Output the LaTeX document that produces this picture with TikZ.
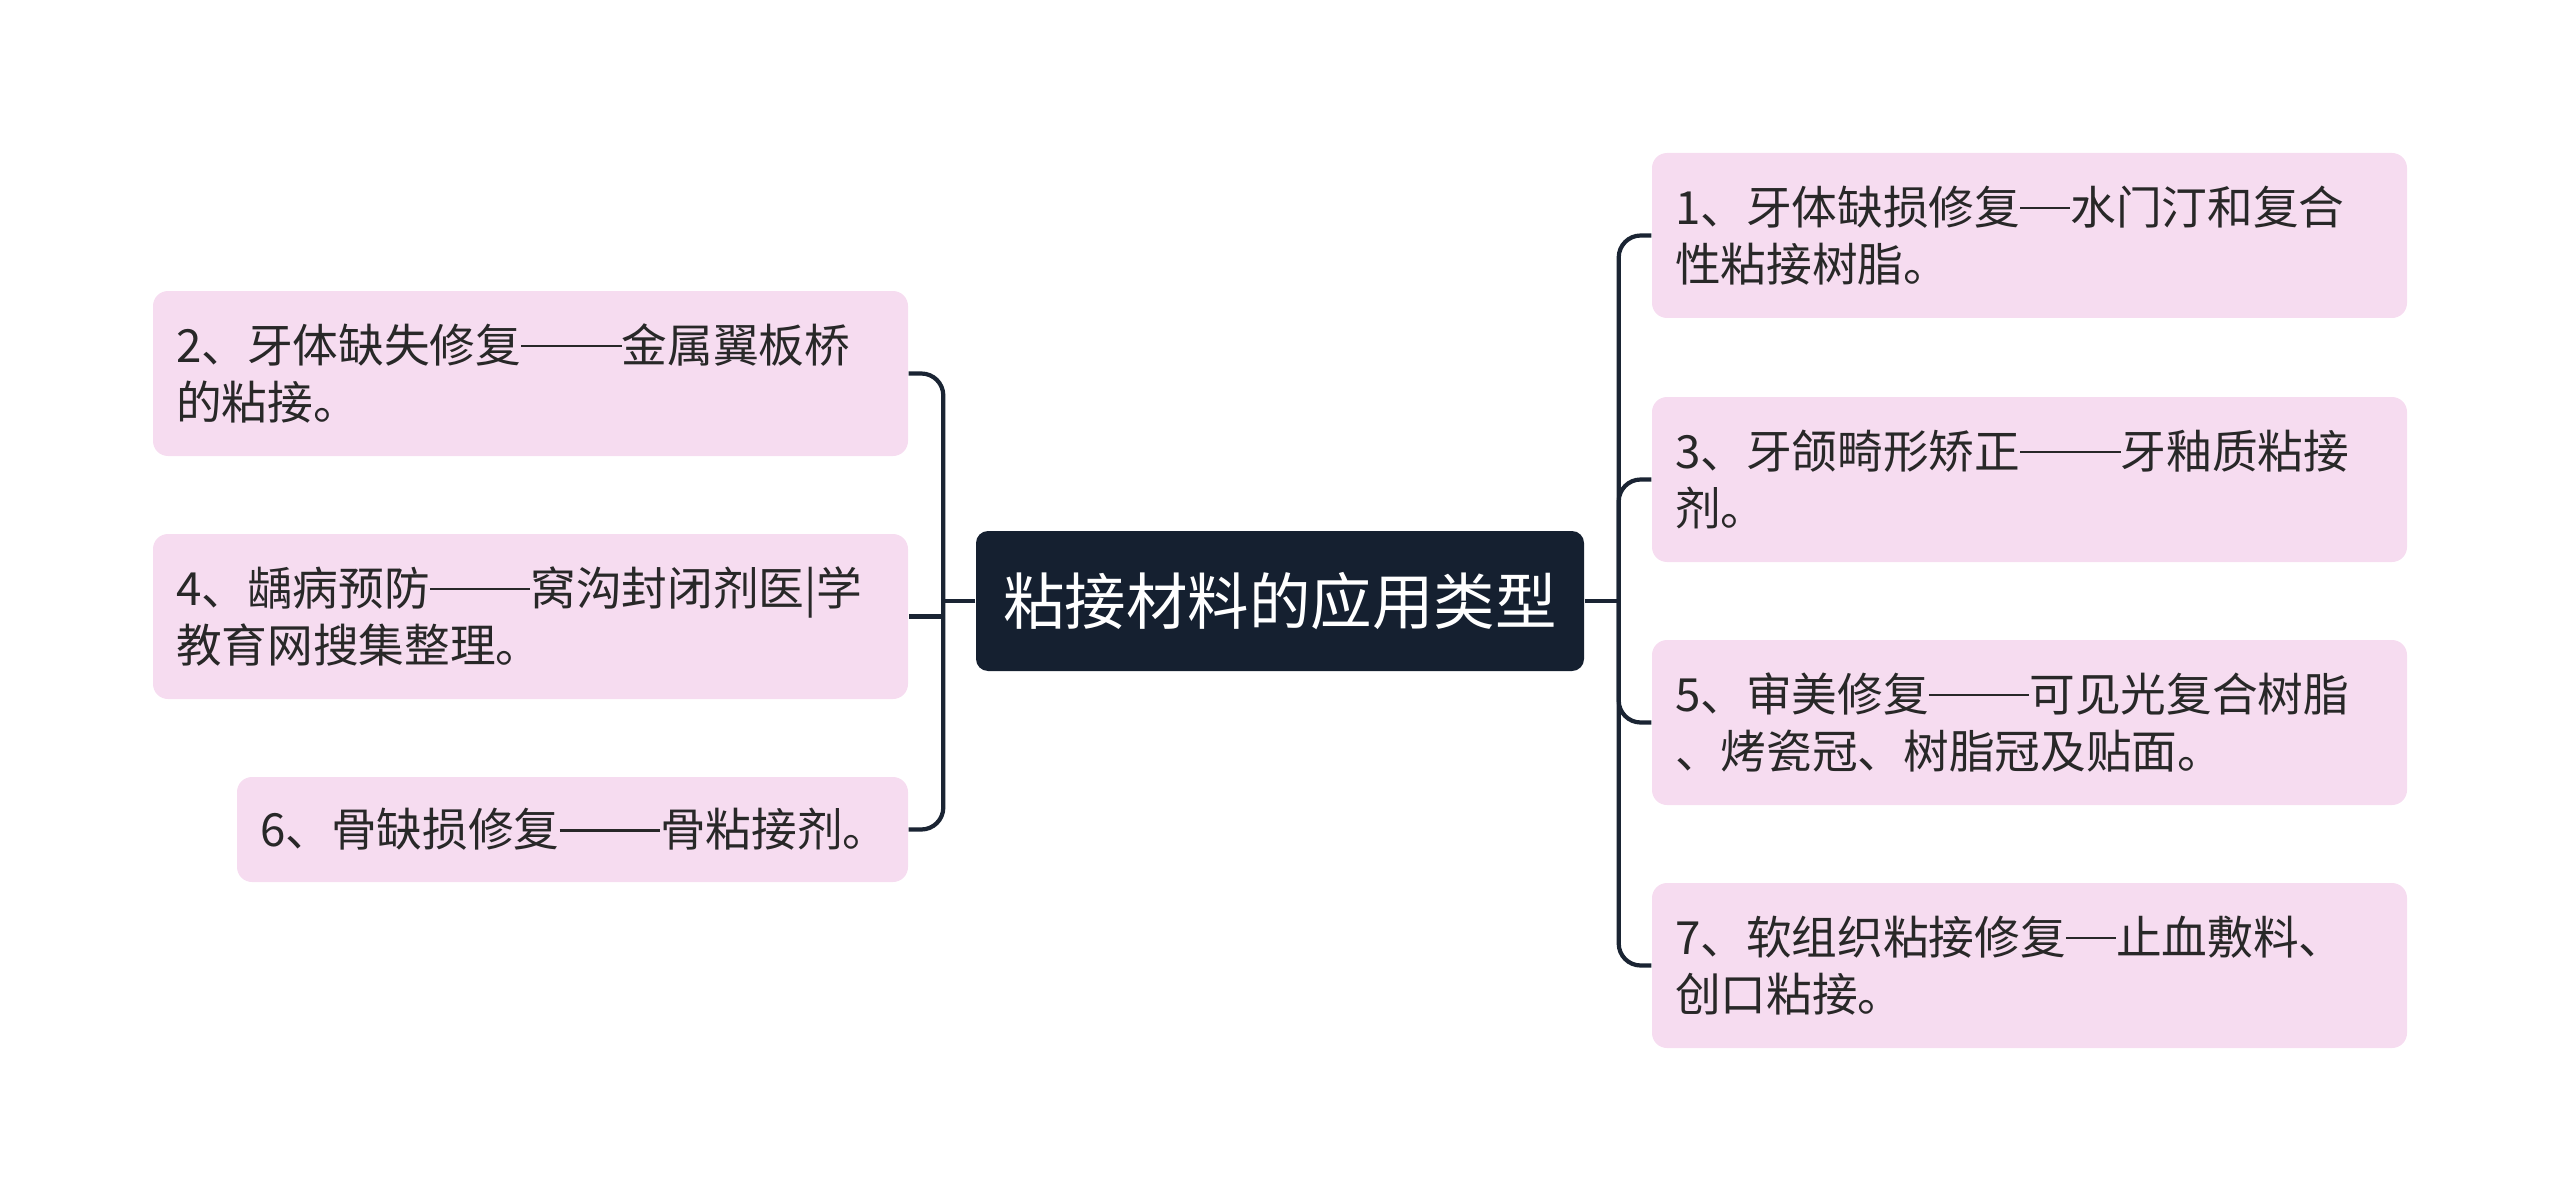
\documentclass[tikz,border=0pt]{standalone}
\usepackage{fontspec}
\setmainfont{Noto Sans CJK SC}
\usetikzlibrary{calc}
\definecolor{rootFill}{RGB}{21,32,48}
\definecolor{leafFill}{RGB}{246,220,240}
\definecolor{lineCol}{RGB}{26,36,51}
\definecolor{txtCol}{RGB}{40,40,40}
\newcommand{\cjkdash}{\rule[0.33em]{1.1em}{0.06em}}

\begin{document}
\begin{tikzpicture}[
  leaf/.style={fill=leafFill,rounded corners=0.15cm,minimum height=1.65cm,
    inner xsep=0.23cm,text width=7.09cm,align=left,text=txtCol,
    font=\fontsize{13pt}{16.2pt}\selectfont},
  root/.style={fill=rootFill,rounded corners=0.12cm,minimum width=6.08cm,
    minimum height=1.4cm,text=white,font=\fontsize{17.5pt}{20pt}\selectfont},
  conn/.style={draw=lineCol,line width=1.2pt,rounded corners=0.22cm}
]
\useasboundingbox (0,0) rectangle (25.6,-12.04);
\def\xl{5.305}
\def\xr{20.295}

\node[root] (root) at (12.80,-6.01) {粘接材料的应用类型};

% left side
\node[leaf] (b2) at (\xl,-3.735) {2、牙体缺失修复\cjkdash\cjkdash 金属翼板桥\\的粘接。};
\node[leaf] (b4) at (\xl,-6.165) {4、龋病预防\cjkdash\cjkdash 窝沟封闭剂医|学\\教育网搜集整理。};
\node[leaf,text width=6.25cm,minimum height=1.05cm] (b6) at (5.725,-8.295) {6、骨缺损修复\cjkdash\cjkdash 骨粘接剂。};

% right side
\node[leaf] (b1) at (\xr,-2.355) {1、牙体缺损修复\cjkdash 水门汀和复合\\性粘接树脂。};
\node[leaf] (b3) at (\xr,-4.795) {3、牙颌畸形矫正\cjkdash\cjkdash 牙釉质粘接\\剂。};
\node[leaf] (b5) at (\xr,-7.225) {5、审美修复\cjkdash\cjkdash 可见光复合树脂\\、烤瓷冠、树脂冠及贴面。};
\node[leaf] (b7) at (\xr,-9.655) {7、软组织粘接修复\cjkdash 止血敷料、\\创口粘接。};

% connectors
\coordinate (lj) at ($(root.west)+(-0.32,0)$);
\coordinate (rj) at ($(root.east)+(0.34,0)$);
\draw[conn] (root.west) -- (lj);
\draw[conn] (lj) |- (b2.east);
\draw[conn] (lj |- b4.east) -- (b4.east);
\draw[conn] (lj) |- (b6.east);
\draw[conn] (root.east) -- (rj);
\foreach \n in {b1,b3,b5,b7}
  \draw[conn] (rj) |- (\n.west);
\end{tikzpicture}
\end{document}
